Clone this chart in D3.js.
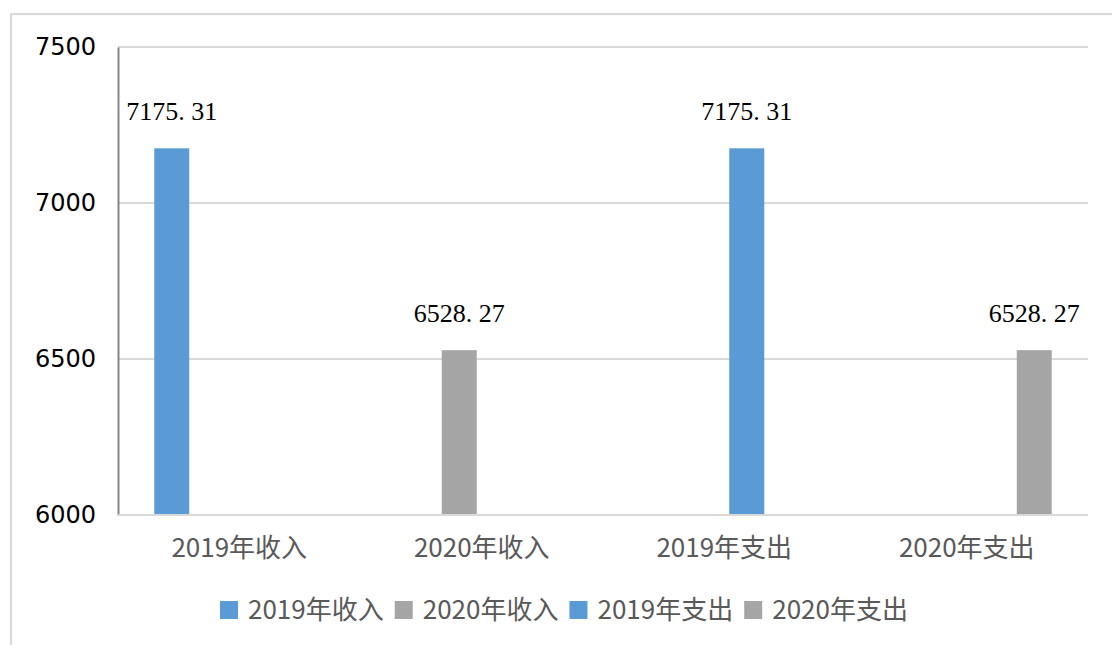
<!DOCTYPE html>
<html>
<head>
<meta charset="utf-8">
<script src="https://cdn.jsdelivr.net/npm/d3@7"></script>
<style>
  body { margin: 0; background: #fff; }
</style>
</head>
<body>
<script>
var categories = ["2019年收入", "2020年收入", "2019年支出", "2020年支出"];
var seriesNames = ["2019年收入", "2020年收入", "2019年支出", "2020年支出"];
var seriesColors = ["#5B9BD5", "#A5A5A5", "#5B9BD5", "#A5A5A5"];
// each category only carries its own series value
var values = [
  [7175.31, null, null, null],
  [null, 6528.27, null, null],
  [null, null, 7175.31, null],
  [null, null, null, 6528.27]
];
var yTicks = [6000, 6500, 7000, 7500];

var svg = d3.select("body").append("svg")
    .attr("width", 1112)
    .attr("height", 645);

// outer chart frame
svg.append("rect")
    .attr("x", 11).attr("y", 14)
    .attr("width", 1200).attr("height", 700)
    .attr("fill", "none")
    .attr("stroke", "#D9D9D9")
    .attr("stroke-width", 2);

var x0 = d3.scaleBand().domain(categories).range([118, 1088]).padding(0);
var x1 = d3.scaleBand().domain(d3.range(seriesNames.length))
    .range([-90, 90]).paddingInner(0.222).paddingOuter(0.111);
var y = d3.scaleLinear().domain([6000, 7500]).range([515, 47]);

// gridlines
svg.append("g").selectAll("line")
    .data(yTicks.slice(1))
    .enter().append("line")
    .attr("x1", 118).attr("x2", 1088)
    .attr("y1", function (d) { return y(d); })
    .attr("y2", function (d) { return y(d); })
    .attr("stroke", "#D9D9D9")
    .attr("stroke-width", 2);

// y axis
var yAxis = svg.append("g")
    .attr("transform", "translate(118,0)")
    .call(d3.axisLeft(y).tickValues(yTicks).tickSize(0).tickPadding(22).tickFormat(d3.format("d")));
yAxis.select(".domain").attr("stroke", "#868686").attr("stroke-width", 2);
yAxis.selectAll("text")
    .attr("font-family", "'DejaVu Sans', sans-serif")
    .attr("font-size", "24px")
    .attr("fill", "#000");

// bars
var groups = svg.append("g").selectAll("g")
    .data(categories)
    .enter().append("g")
    .attr("transform", function (d) { return "translate(" + (x0(d) + x0.bandwidth() / 2) + ",0)"; });

var cells = groups.selectAll("g.cell")
    .data(function (d, i) {
      return values[i].map(function (v, s) { return { s: s, v: v }; }).filter(function (e) { return e.v != null; });
    })
    .enter().append("g").attr("class", "cell");

cells.append("rect")
    .attr("x", function (d) { return x1(d.s); })
    .attr("width", x1.bandwidth())
    .attr("y", function (d) { return y(d.v); })
    .attr("height", function (d) { return y(6000) - y(d.v); })
    .attr("fill", function (d) { return seriesColors[d.s]; });

cells.append("text")
    .attr("x", function (d) { return x1(d.s) + x1.bandwidth() / 2; })
    .attr("y", function (d) { return y(d.v) - 28; })
    .attr("text-anchor", "middle")
    .attr("font-family", "'Liberation Serif', serif")
    .attr("font-size", "26px")
    .attr("fill", "#000")
    .text(function (d) { return d.v.toFixed(2).replace(".", ". "); });

// x axis
svg.append("line")
    .attr("x1", 118).attr("x2", 1088)
    .attr("y1", y(6000)).attr("y2", y(6000))
    .attr("stroke", "#D9D9D9")
    .attr("stroke-width", 2);

svg.append("g").selectAll("text")
    .data(categories)
    .enter().append("text")
    .attr("x", function (d) { return x0(d) + x0.bandwidth() / 2; })
    .attr("y", 557)
    .attr("text-anchor", "middle")
    .attr("font-family", "'Noto Sans CJK SC', sans-serif")
    .attr("font-size", "26px")
    .attr("fill", "#595959")
    .text(function (d) { return d; });

// legend
var legend = svg.append("g").attr("transform", "translate(220,0)");
var lx = 0;
seriesNames.forEach(function (name, i) {
  var item = legend.append("g").attr("transform", "translate(" + lx + ",0)");
  item.append("rect")
    .attr("x", 0).attr("y", 601)
    .attr("width", 18).attr("height", 18)
    .attr("fill", seriesColors[i]);
  var t = item.append("text")
    .attr("x", 28).attr("y", 619)
    .attr("font-family", "'Noto Sans CJK SC', sans-serif")
    .attr("font-size", "26px")
    .attr("fill", "#595959")
    .text(name);
  lx += 28 + t.node().getComputedTextLength() + 11;
});
</script>
</body>
</html>
